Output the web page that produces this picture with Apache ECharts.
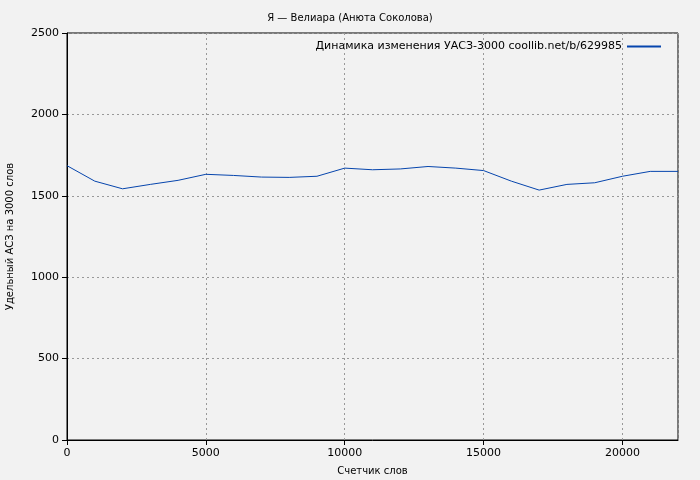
<!DOCTYPE html>
<html><head><meta charset="utf-8">
<script src="https://cdn.jsdelivr.net/npm/echarts@6/dist/echarts.min.js"></script>
<style>html,body{margin:0;background:#f2f2f2}#c{width:700px;height:480px}</style>
</head><body><div id="c"></div>
<script>
const xWords = [0,1000,2000,3000,4000,5000,6000,7000,8000,9000,10000,11000,12000,13000,14000,15000,16000,17000,18000,19000,20000,21000,22000];
const yValues = [1685,1590,1543,1570,1595,1632,1625,1615,1613,1620,1670,1660,1665,1680,1670,1655,1590,1535,1570,1580,1620,1650,1650];
const seriesName = 'Динамика изменения УАСЗ-3000 coollib.net/b/629985';
const font = 'DejaVu Sans';
const chart = echarts.init(document.getElementById('c'));
chart.setOption({
  backgroundColor:'#f2f2f2',
  textStyle:{fontFamily:font,color:'#000'},
  title:{text:'Я — Велиара (Анюта Соколова)',left:'center',top:8,textStyle:{fontSize:10,fontWeight:'normal',fontFamily:font,color:'#000'}},
  legend:{top:36,right:34,itemWidth:34,itemHeight:2,icon:'rect',align:'right',itemGap:5,textStyle:{fontSize:11,fontFamily:font,color:'#000'},data:[seriesName]},
  grid:{left:67,right:22,top:33,bottom:40,containLabel:false,outerBoundsMode:'none',show:true,borderColor:'#000',borderWidth:1,backgroundColor:'transparent'},
  xAxis:{type:'value',min:0,max:22000,interval:5000,name:'Счетчик слов',nameLocation:'middle',nameGap:26,nameTextStyle:{fontSize:10},
    axisLine:{lineStyle:{color:'#000'}},axisTick:{lineStyle:{color:'#000'}},axisLabel:{fontSize:11,color:'#000',showMaxLabel:false,formatter:v=>String(v)},
    splitLine:{show:true,lineStyle:{color:'#999',type:[2,3]}}},
  yAxis:{type:'value',min:0,max:2500,interval:500,name:'Удельный АСЗ на 3000 слов',nameLocation:'middle',nameGap:52,nameTextStyle:{fontSize:10},
    axisLine:{show:true,lineStyle:{color:'#000'}},axisTick:{show:true,lineStyle:{color:'#000'}},axisLabel:{fontSize:11,color:'#000',formatter:v=>String(v)},
    splitLine:{show:true,lineStyle:{color:'#999',type:[2,3]}}},
  series:[{name:seriesName,type:'line',data:xWords.map((x,i)=>[x,yValues[i]]),showSymbol:false,lineStyle:{color:'#0645ad',width:1},itemStyle:{color:'#0645ad'}}]
});
</script></body></html>
